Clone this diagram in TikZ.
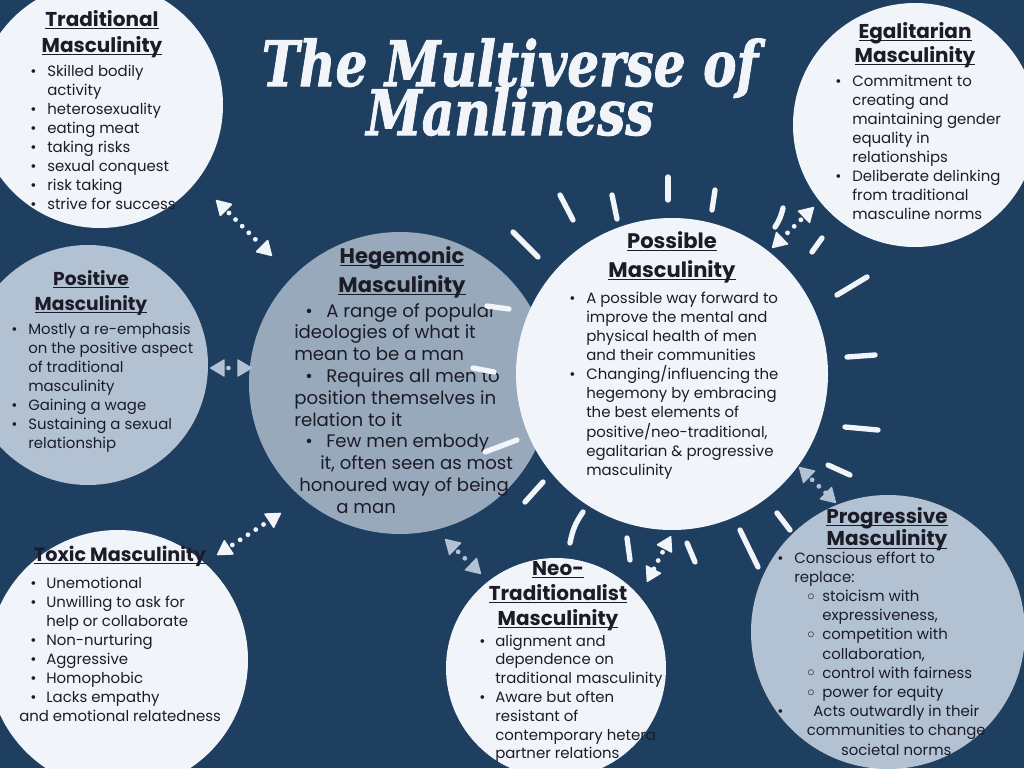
\documentclass[tikz,border=0pt]{standalone}
\usepackage{fontspec}
\setmainfont{Poppins}
\newfontfamily\titlefont{DejaVu Serif}[BoldItalicFeatures={FakeBold=1.6}]
\usetikzlibrary{arrows.meta}
\definecolor{bg}{HTML}{1F3F60}
\definecolor{lite}{HTML}{F1F5FA}
\definecolor{hegc}{HTML}{98A9BB}
\definecolor{greyc}{HTML}{B2C2D3}
\definecolor{ink}{HTML}{1C1C28}
\newlength\bw
\setlength\bw{12.75pt}
\newcommand\B{\makebox[\bw][l]{\textbullet}}
\newcommand\C{\hspace*{\bw}}
\newcommand\SB{\hspace*{22.5pt}\makebox[11.25pt][l]{\raisebox{0.15ex}{$\circ$}}}
\newcommand\SC{\hspace*{33.75pt}}
\newcommand\hul[1]{\setbox0\hbox{#1}\rlap{\rule[-2.6pt]{\wd0}{1.1pt}}\box0}
\newcommand\HD[3]{\fontsize{#1}{#2}\selectfont\begin{tabular}[t]{@{}c@{}}#3\end{tabular}}
\newcommand\bodyfont{\fontsize{11.2}{14.25}\selectfont}
\begin{document}
\begin{tikzpicture}[x=0.75pt,y=-0.75pt,
  circ/.style={circle, inner sep=0pt, minimum size=#1*1.5pt},
  ray/.style={draw=lite, line width=4pt, line cap=round},
  dbl/.style={line width=3.6pt, line cap=round, dash pattern=on 0pt off 7pt, dash phase=-3pt, {Triangle[round,length=11.5pt,width=13.5pt,line width=1pt]}-{Triangle[round,length=11.5pt,width=13.5pt,line width=1pt]}},
  body/.style={font=\bodyfont, text=ink, inner sep=0pt, anchor=base west},
  hd/.style={font=\bfseries, text=ink, inner sep=0pt, anchor=base},
  ttl/.style={font=\titlefont\bfseries\itshape\fontsize{47}{50}\selectfont, text=lite, inner sep=0pt, anchor=base}]
\fill[bg] (0,0) rectangle (1024,768);
\useasboundingbox (0,0) rectangle (1024,768);
\clip (0,0) rectangle (1024,768);
% circles
\node[circ=123, fill=lite] (trad) at (100,105) {};
\node[circ=122, fill=lite] (egal) at (915,125) {};
\node[circ=120, fill=greyc] (pos) at (88,365) {};
\node[circ=151, fill=hegc] (heg) at (400,383) {};
\node[circ=156, fill=lite] (poss) at (672,374) {};
\node[circ=130, fill=lite] (tox) at (118,660) {};
\node[circ=110, fill=lite] (neo) at (556,668) {};
\node[circ=137, fill=greyc] (prog) at (888,632) {};
% arrows
\coordinate (a1s) at (216,200); \coordinate (a1e) at (272,256);
\coordinate (a2s) at (210,368); \coordinate (a2e) at (252,368);
\coordinate (a3s) at (217,555); \coordinate (a3e) at (281,513);
\coordinate (a4s) at (445,539); \coordinate (a4e) at (481,574);
\coordinate (a5s) at (671,536); \coordinate (a5e) at (647,582);
\coordinate (a6s) at (814,207); \coordinate (a6e) at (772,248);
\coordinate (a7s) at (799,467); \coordinate (a7e) at (836,503);
\draw[dbl, lite] (a1s) -- (a1e);
\draw[dbl, greyc] (a2s) -- (a2e);
\draw[dbl, lite] (a3s) -- (a3e);
\draw[dbl, greyc] (a4s) -- (a4e);
\draw[dbl, lite] (a5s) -- (a5e);
\draw[dbl, lite] (a6s) -- (a6e);
\draw[dbl, greyc] (a7s) -- (a7e);
% title
\node[ttl] (ttl) at (510,86) {\scalebox{0.8}[1]{\vtop{\lineskiplimit=-100pt\baselineskip=36.75pt
  \hbox to 480pt{\hss The Multiverse of\hss}\hbox to 480pt{\hss Manliness\hss}}}};
% headings
\node[hd] (h1) at (102,26) {\HD{15}{19.5pt}{\hul{Traditional}\\\hul{Masculinity}}};
\node[hd] (h2) at (915,38) {\HD{15}{18pt}{\hul{Egalitarian}\\\hul{Masculinity}}};
\node[hd] (h3) at (91,285) {\HD{14}{18.75pt}{\hul{Positive}\\\hul{Masculinity}}};
\node[hd] (h4) at (402,263) {\HD{15.8}{21.75pt}{\hul{Hegemonic}\\\hul{Masculinity}}};
\node[hd] (h5) at (672,248) {\HD{15.8}{21.75pt}{\hul{Possible}\\\hul{Masculinity}}};
\node[hd] (h6) at (120,561) {\HD{14.4}{18pt}{\hul{Toxic Masculinity}}};
\node[hd] (h7) at (558,575) {\HD{15}{18.75pt}{\hul{Neo-}\\\hul{Traditionalist}\\\hul{Masculinity}}};
\node[hd] (h8) at (887,523) {\HD{15}{16.5pt}{\hul{Progressive}\\\hul{Masculinity}}};
% bodies
\node[body] (b1) at (30,76) {\begin{tabular}[t]{@{}l@{}}\B Skilled bodily\\ \C activity\\ \B heterosexuality\\ \B eating meat\\ \B taking risks\\ \B sexual conquest\\ \B risk taking\\ \B strive for success\end{tabular}};
\node[body] (b2) at (835,86) {\begin{tabular}[t]{@{}l@{}}\B Commitment to\\ \C creating and\\ \C maintaining gender\\ \C equality in\\ \C relationships\\ \B Deliberate delinking\\ \C from traditional\\ \C masculine norms\end{tabular}};
\node[body] (b3) at (11,334) {\begin{tabular}[t]{@{}l@{}}\B Mostly a re-emphasis\\ \C on the positive aspect\\ \C of traditional\\ \C masculinity\\ \B Gaining a wage\\ \B Sustaining a sexual\\ \C relationship\end{tabular}};
\node[body] (b4) at (569,303) {\begin{tabular}[t]{@{}l@{}}\B A possible way forward to\\ \C improve the mental and\\ \C physical health of men\\ \C and their communities\\ \B Changing/influencing the\\ \C hegemony by embracing\\ \C the best elements of\\ \C positive/neo-traditional,\\ \C egalitarian \& progressive\\ \C masculinity\end{tabular}};
\node[body] (b5) at (30,588) {\setlength\bw{12pt}\begin{tabular}[t]{@{}l@{}}\B Unemotional\\ \B Unwilling to ask for\\ \C help or collaborate\\ \B Non-nurturing\\ \B Aggressive\\ \B Homophobic\\ \B Lacks empathy\\ \hspace*{-8.25pt}and emotional relatedness\end{tabular}};
\node[body] (b6) at (479,646) {\fontsize{11.2}{14.1}\selectfont\setlength\bw{12pt}\begin{tabular}[t]{@{}l@{}}\B alignment and\\ \C dependence on\\ \C traditional masculinity\\ \B Aware but often\\ \C resistant of\\ \C contemporary hetera\\ \C partner relations\end{tabular}};
\node[body] (b7) at (777,563) {\fontsize{11.2}{14.4}\selectfont\begin{tabular}[t]{@{}l@{}}\B Conscious effort to\\ \C replace:\\ \SB stoicism with\\ \SC expressiveness,\\ \SB competition with\\ \SC collaboration,\\ \SB control with fairness\\ \SB power for equity\\ \makebox[0pt][l]{\textbullet}\makebox[178.5pt]{Acts outwardly in their}\\ \makebox[178.5pt]{communities to change}\\ \makebox[178.5pt]{societal norms}\end{tabular}};
\node[body] (b8) at (294,317) {\fontsize{13.6}{16.35}\selectfont\begin{tabular}[t]{@{}l@{}}\hspace*{8.25pt}\makebox[15.75pt][l]{\textbullet}A range of popular\\ ideologies of what it\\ mean to be a man\\ \hspace*{8.25pt}\makebox[15.75pt][l]{\textbullet}Requires all men to\\ position themselves in\\ relation to it\\ \hspace*{8.25pt}\makebox[15.75pt][l]{\textbullet}Few men embody\\ \hspace*{19.5pt}it, often seen as most\\ \hspace*{3.75pt}honoured way of being\\ \hspace*{31.5pt}a man\end{tabular}};
% rays round Possible Masculinity (drawn over the texts, as in the reference)
\draw[ray] (560,195) -- (573,220);
\draw[ray] (612,195) -- (617,219);
\draw[ray] (668,177) -- (668,200);
\draw[ray] (715,190) -- (712,210);
\draw[ray] (783,208) to[bend left=10] (775,227);
\draw[ray] (822,238) -- (812,252);
\draw[ray] (867,277) -- (837,295);
\draw[ray] (875,355) -- (847,357);
\draw[ray] (878,430) -- (845,427);
\draw[ray] (850,475) -- (828,465);
\draw[ray] (790,530) -- (777,513);
\draw[ray] (758,567) -- (740,530);
\draw[ray] (695,562) -- (687,543);
\draw[ray] (630,560) -- (627,538);
\draw[ray] (583,512) to[bend right=12] (570,543);
\draw[ray] (543,482) -- (525,502);
\draw[ray] (517,440) -- (485,452);
\draw[ray] (494,372) -- (473,368);
\draw[ray] (509,309) -- (487,306);
\draw[ray] (538,257) -- (513,232);
\end{tikzpicture}
\end{document}
